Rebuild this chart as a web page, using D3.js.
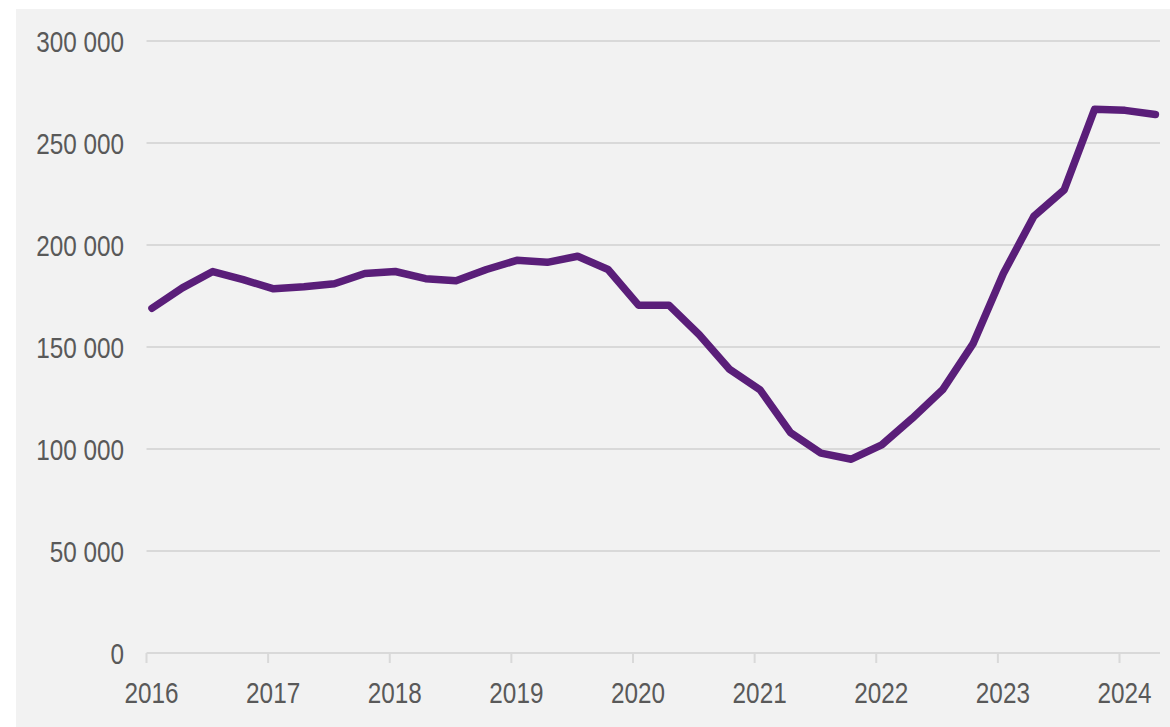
<!DOCTYPE html>
<html>
<head>
<meta charset="utf-8">
<script src="https://cdn.jsdelivr.net/npm/d3@7"></script>
<style>
  html, body { margin: 0; padding: 0; background: #ffffff; }
  svg { display: block; }
  .lbl { font-family: "Liberation Sans", Arial, sans-serif; fill: #595959; }
</style>
</head>
<body>
<svg id="chart" width="1170" height="727"></svg>
<script>
// ---- data ----
const quarters = [
  "2016Q1","2016Q2","2016Q3","2016Q4",
  "2017Q1","2017Q2","2017Q3","2017Q4",
  "2018Q1","2018Q2","2018Q3","2018Q4",
  "2019Q1","2019Q2","2019Q3","2019Q4",
  "2020Q1","2020Q2","2020Q3","2020Q4",
  "2021Q1","2021Q2","2021Q3","2021Q4",
  "2022Q1","2022Q2","2022Q3","2022Q4",
  "2023Q1","2023Q2","2023Q3","2023Q4",
  "2024Q1","2024Q2"
];
const values = [
  169000, 179000, 187000, 183000,
  178500, 179500, 181000, 186000,
  187000, 183500, 182500, 188000,
  192500, 191500, 194500, 188000,
  170500, 170500, 156000, 139000,
  129000, 108000, 98000, 95000,
  102000, 115000, 129000, 151500,
  186000, 214000, 227000, 266500,
  266000, 264000
];
const yTicks = [0, 50000, 100000, 150000, 200000, 250000, 300000];
const xTicks = [2016, 2017, 2018, 2019, 2020, 2021, 2022, 2023, 2024];

// ---- layout ----
const svg = d3.select("#chart");
svg.append("rect").attr("x", 16).attr("y", 9).attr("width", 1154).attr("height", 718).attr("fill", "#f2f2f2");

const x = d3.scaleLinear().domain([2016, 2024]).range([146.5, 1119.5]);
const y = d3.scaleLinear().domain([0, 300000]).range([653, 41]);
const gridRight = 1160;
const squeeze = 0.81;

// gridlines
svg.append("g").selectAll("line").data(yTicks.filter(d => d > 0)).join("line")
  .attr("x1", x(2016)).attr("x2", gridRight)
  .attr("y1", d => y(d)).attr("y2", d => y(d))
  .attr("stroke", "#d9d9d9").attr("stroke-width", 2);

// x-axis baseline and ticks
svg.append("line").attr("x1", x(2016)).attr("x2", gridRight)
  .attr("y1", y(0)).attr("y2", y(0)).attr("stroke", "#d9d9d9").attr("stroke-width", 2);
svg.append("g").selectAll("line").data(xTicks).join("line")
  .attr("x1", d => x(d)).attr("x2", d => x(d))
  .attr("y1", y(0)).attr("y2", y(0) + 10)
  .attr("stroke", "#d9d9d9").attr("stroke-width", 2);

// y labels
const fmt = d => d3.format(",")(d).replace(/,/g, " ");
svg.append("g").selectAll("g").data(yTicks).join("g")
  .attr("transform", d => `translate(124,${y(d)}) scale(${squeeze},1)`)
  .append("text")
  .attr("class", "lbl")
  .attr("dy", "0.36em")
  .attr("text-anchor", "end")
  .attr("font-size", 30)
  .text(fmt);

// x labels
svg.append("g").selectAll("g").data(xTicks).join("g")
  .attr("transform", d => `translate(${x(d) + 5},692) scale(${squeeze},1)`)
  .append("text")
  .attr("class", "lbl")
  .attr("dy", "0.36em")
  .attr("text-anchor", "middle")
  .attr("font-size", 30)
  .text(d => d);

// line
const pts = quarters.map((q, i) => {
  const yr = +q.slice(0, 4), qn = +q.slice(5);
  return { t: yr + (qn - 1) / 4 + 0.045, v: values[i] };
});
svg.append("path").datum(pts)
  .attr("fill", "none")
  .attr("stroke", "#5a1e79")
  .attr("stroke-width", 7.5)
  .attr("stroke-linejoin", "round")
  .attr("stroke-linecap", "round")
  .attr("d", d3.line().x(d => x(d.t)).y(d => y(d.v)));
</script>
</body>
</html>
